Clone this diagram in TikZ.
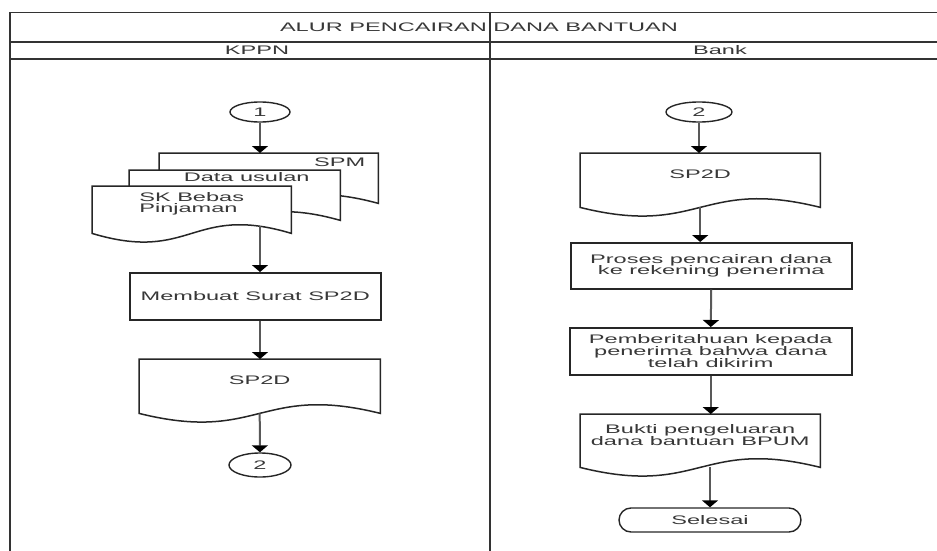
\documentclass[tikz,border=0pt]{standalone}
\usepackage{fontspec}
\setmainfont[FakeStretch=1.9]{Liberation Sans}
\usetikzlibrary{shapes.geometric,arrows.meta,calc,positioning,backgrounds}

\tikzset{
  txt/.style={font=\fontsize{12.4}{11.8}\selectfont, text=black!78, align=center, inner sep=0pt},
  proc/.style={txt, rectangle, draw=black!85, line width=1.5pt, anchor=north west},
  doc/.style={txt, rectangle, anchor=north west},
  conn/.style={txt, ellipse, draw=black!85, line width=1.4pt},
  term/.style={txt, rectangle, rounded corners=12pt, draw=black!85, line width=1.4pt},
  arr/.style={draw=black!65, line width=2pt, -{Triangle[width=16pt,length=7pt,color=black,fill=black]}},
  frame/.style={draw=black!80, line width=1.5pt}
}

% document shape: flat top, wavy bottom, 12pt below the node's south
\newcommand{\docshape}[1]{%
  \begin{pgfonlayer}{background}
    \filldraw[draw=black!85, line width=1.5pt, fill=white]
      (#1.north west) -- (#1.north east) -- ($(#1.south east)+(0,12)$)
      .. controls ($(#1.south)+(0,-18)$) and ($(#1.south)+(0,42)$) .. ($(#1.south west)+(0,12)$) -- cycle;
  \end{pgfonlayer}
  \coordinate (#1-b) at ($(#1.south)+(0,12)$);}

\begin{document}
\begin{tikzpicture}[x=1pt,y=-1pt]
\useasboundingbox (0,0) rectangle (937,551);

% table
\draw[frame] (10,551) -- (10,12.5) -- (937,12.5);
\draw[frame] (10,42) -- (937,42);
\draw[frame] (10,59) -- (937,59);
\draw[frame] (490,12.5) -- (490,551);
\node[txt] (judul) at (479,27.5) {ALUR PENCAIRAN DANA BANTUAN};
\node[txt] (kppn) at (257,50.5) {KPPN};
\node[txt] (bank) at (720,50.5) {Bank};

% KPPN
\node[conn, minimum width=60pt, minimum height=20pt] (c1) at (260,112) {1};
\node[doc, minimum width=219pt, minimum height=38pt] (spm) at (159,153) {};
\docshape{spm}
\node[doc, minimum width=211pt, minimum height=38pt] (du) at (129,170) {};
\docshape{du}
\node[doc, minimum width=199pt, minimum height=35pt, align=left] (sk) at (92,186) {SK Bebas\\Pinjaman};
\docshape{sk}
\node[txt, left=13pt of spm.north east, yshift=-9pt] (spmtxt) {SPM};
\node[txt] (dutxt) at ($(du.north)+(12,7)$) {Data usulan};
\node[proc, minimum width=251pt, minimum height=47pt] (mb) at (129,272) {Membuat Surat SP2D};
\node[doc, minimum width=241pt, minimum height=42pt] (sp2d) at (139,359) {SP2D};
\docshape{sp2d}
\node[conn, minimum width=62pt, minimum height=24pt] (c2l) at (260,465) {2};

\draw[arr] (c1) -- (c1 |- spm.north);
\draw[arr] ($(sk-b -| c1)+(0,-7)$) -- (mb.north -| c1);
\draw[arr] (mb.south -| c1) -- (sp2d.north -| c1);
\draw[arr] (sp2d-b) -- (c2l);

% Bank
\node[conn, minimum width=66pt, minimum height=20pt] (c2r) at (699,112) {2};
\node[doc, minimum width=240pt, minimum height=42pt] (sp2dr) at (580,153) {SP2D};
\docshape{sp2dr}
\node[proc, minimum width=281pt, minimum height=46pt] (proses) at (570,242) {Proses pencairan dana\\ke rekening penerima};
\node[proc, minimum width=282pt, minimum height=47pt] (pemb) at (569,327) {Pemberitahuan kepada\\penerima bahwa dana\\telah dikirim};
\node[doc, minimum width=240pt, minimum height=41pt] (bukti) at (580,414) {Bukti pengeluaran\\dana bantuan BPUM};
\docshape{bukti}
\node[term, minimum width=182pt, minimum height=24pt] (selesai) at (710,520) {Selesai};

\draw[arr] (c2r) -- (c2r |- sp2dr.north);
\draw[arr] (sp2dr-b) -- (sp2dr-b |- proses.north);
\draw[arr] (proses.south) -- (pemb.north);
\draw[arr] (pemb.south) -- (pemb.south |- bukti.north);
\draw[arr] (bukti-b -| selesai) -- (selesai.north);
\end{tikzpicture}
\end{document}
